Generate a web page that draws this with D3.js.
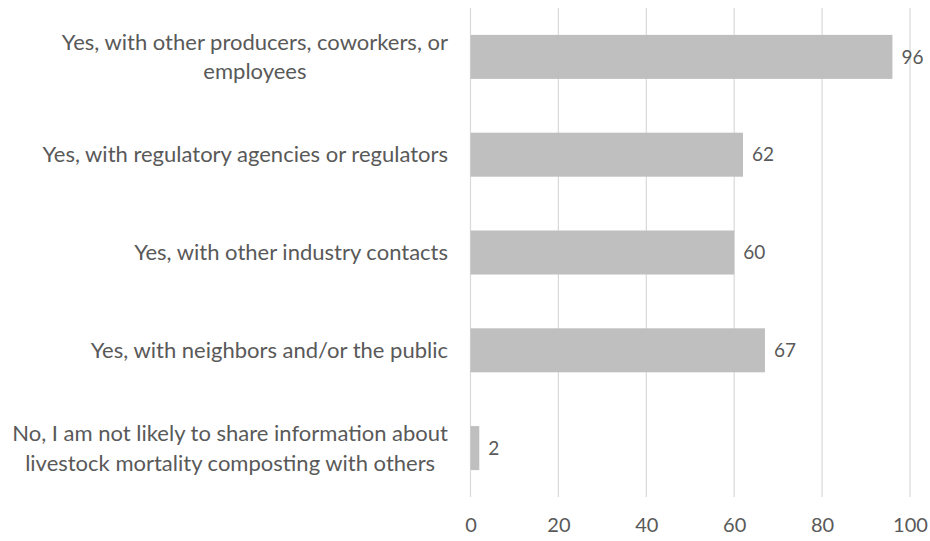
<!DOCTYPE html>
<html>
<head>
<meta charset="utf-8">
<script src="https://cdn.jsdelivr.net/npm/d3@7"></script>
<style>
  html, body { margin: 0; padding: 0; background: #fff; }
  svg { display: block; }
  text { font-family: Lato, "Open Sans", sans-serif; fill: #595959; }
</style>
</head>
<body>
<svg id="chart" width="930" height="541"></svg>
<script>
// Responses: who would livestock mortality composting info be shared with
const categories = [
  ["Yes, with other producers, coworkers, or", "employees"],
  ["Yes, with regulatory agencies or regulators"],
  ["Yes, with other industry contacts"],
  ["Yes, with neighbors and/or the public"],
  ["No, I am not likely to share information about", "livestock mortality composting with others"]
];
const values = [96, 62, 60, 67, 2];
const xTicks = [0, 20, 40, 60, 80, 100];

(function drawChart() {
  const svg = d3.select("#chart");
  const plotLeft = 470.5, plotRight = 910, plotTop = 8, plotBottom = 497;

  const x = d3.scaleLinear().domain([0, 100]).range([plotLeft, plotRight]);
  const y = d3.scaleBand().domain(d3.range(values.length))
    .range([plotTop, plotBottom]).paddingInner(0.55).paddingOuter(0.275);

  // vertical gridlines
  svg.append("g").selectAll("line").data(xTicks).join("line")
    .attr("x1", d => x(d)).attr("x2", d => x(d))
    .attr("y1", plotTop).attr("y2", plotBottom)
    .attr("stroke", "#d9d9d9").attr("stroke-width", 1.2);

  // bars
  svg.append("g").selectAll("rect").data(values).join("rect")
    .attr("x", x(0))
    .attr("y", (d, i) => y(i))
    .attr("width", d => x(d) - x(0))
    .attr("height", y.bandwidth())
    .attr("fill", "#bfbfbf");

  // value labels
  svg.append("g").selectAll("text").data(values).join("text")
    .attr("x", d => x(d) + 9)
    .attr("y", (d, i) => y(i) + y.bandwidth() / 2)
    .attr("dy", "0.35em")
    .attr("font-size", 19)
    .text(d => d);

  // x axis tick labels
  const xAxis = d3.axisBottom(x).tickValues(xTicks).tickSize(0).tickPadding(0);
  const gx = svg.append("g").attr("transform", `translate(0,${plotBottom + 21})`).call(xAxis);
  gx.select(".domain").remove();
  gx.selectAll("text").attr("font-size", 20).attr("fill", "#595959")
    .attr("font-family", "Lato, 'Open Sans', sans-serif");

  // category labels: wrapped lines centered as a block, block right-aligned
  const labelRight = 448, lineH = 29.5;
  const gl = svg.append("g");
  categories.forEach((lines, i) => {
    const cy = y(i) + y.bandwidth() / 2;
    const t = gl.append("text").attr("font-size", 22).attr("text-anchor", "middle");
    const spans = lines.map((s, j) => t.append("tspan")
      .attr("y", cy + (j - (lines.length - 1) / 2) * lineH)
      .attr("dy", "0.35em").text(s));
    const w = d3.max(spans, s => s.node().getComputedTextLength());
    spans.forEach(s => s.attr("x", labelRight - w / 2));
  });
})();
</script>
</body>
</html>
